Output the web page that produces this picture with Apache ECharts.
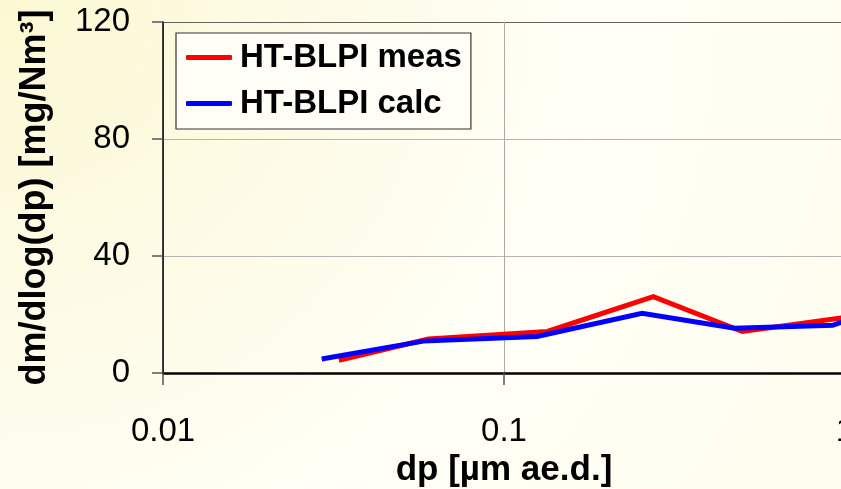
<!DOCTYPE html>
<html>
<head>
<meta charset="utf-8">
<script src="https://cdn.jsdelivr.net/npm/echarts@6/dist/echarts.min.js"></script>
<style>
  html, body { margin: 0; padding: 0; }
  body {
    width: 841px; height: 489px; overflow: hidden;
    background: radial-gradient(circle at 0 0, #fcf8d2 0%, #fdfbe4 28%, #fffff6 60%, #fefdef 100%);
  }
  #chart { width: 841px; height: 489px; }
</style>
</head>
<body>
<div id="chart"></div>
<script>
// Particle size [µm ae.d.] and mass distribution dm/dlog(dp) [mg/Nm³]
const measDp   = [0.0328, 0.060, 0.134, 0.274, 0.50, 1.0];
const measMass = [4.3, 11.6, 14.2, 26.1, 14.2, 19.0];
const calcDp   = [0.0292, 0.058, 0.125, 0.254, 0.475, 0.92, 1.0];
const calcMass = [4.8, 10.9, 12.5, 20.4, 15.3, 16.3, 17.8];
const seriesNames = ['HT-BLPI meas', 'HT-BLPI calc'];
const xTicks = [0.01, 0.1, 1];
const yTicks = [0, 40, 80, 120];

const pairs = (xs, ys) => xs.map((x, i) => [x, ys[i]]);
const font = 'Arial, "Liberation Sans", sans-serif';

const chart = echarts.init(document.getElementById('chart'), null, { renderer: 'canvas' });
chart.setOption({
  backgroundColor: 'transparent',
  animation: false,
  grid: { left: 163, top: 22, width: 682, height: 351, containLabel: false, outerBoundsMode: 'none' },
  legend: {
    left: 176, top: 33,
    orient: 'vertical',
    data: seriesNames,
    icon: 'roundRect',
    itemWidth: 46, itemHeight: 5, itemGap: 13,
    padding: [8, 9, 9, 10],
    backgroundColor: '#fffff8',
    borderColor: '#333', borderWidth: 1.2, borderRadius: 0,
    textStyle: { fontFamily: font, fontWeight: 'bold', fontSize: 33, color: '#000', padding: [0, 0, 0, 3] }
  },
  xAxis: {
    type: 'log', logBase: 10,
    min: xTicks[0], max: xTicks[xTicks.length - 1],
    name: 'dp [µm ae.d.]', nameLocation: 'middle', nameGap: 76,
    nameTextStyle: { fontFamily: font, fontWeight: 'bold', fontSize: 35, color: '#000' },
    axisLine: { show: true, onZero: false, lineStyle: { color: '#000', width: 2.5 } },
    axisTick: { show: true, inside: false, length: 12, lineStyle: { color: '#555', width: 1.5 } },
    minorTick: { show: false },
    axisLabel: {
      fontFamily: font, fontSize: 33, color: '#000', margin: 42,
      formatter: v => String(xTicks.find(t => Math.abs(Math.log10(t) - Math.log10(v)) < 1e-6) ?? v)
    },
    splitLine: { show: true, lineStyle: { color: '#aaa', width: 1 } }
  },
  yAxis: {
    type: 'value',
    min: yTicks[0], max: yTicks[yTicks.length - 1], interval: 40,
    name: 'dm/dlog(dp) [mg/Nm³]', nameLocation: 'middle', nameGap: 110, nameRotate: 90,
    nameTextStyle: { fontFamily: font, fontWeight: 'bold', fontSize: 36, color: '#000' },
    axisLine: { show: true, lineStyle: { color: '#000', width: 1.5 } },
    axisTick: { show: true, inside: false, length: 11, lineStyle: { color: '#555', width: 1.5 } },
    axisLabel: { fontFamily: font, fontSize: 33, color: '#000', margin: 33 },
    splitLine: { show: true, lineStyle: { color: ['#bbb', '#b4b4b4', '#b4b4b4', '#606060'], width: [1] } }
  },
  series: [
    {
      name: seriesNames[0], type: 'line', data: pairs(measDp, measMass),
      symbol: 'none', color: '#ff0000',
      lineStyle: { color: '#ff0000', width: 5, join: 'miter' }
    },
    {
      name: seriesNames[1], type: 'line', data: pairs(calcDp, calcMass),
      symbol: 'none', color: '#0000ff',
      lineStyle: { color: '#0000ff', width: 5, join: 'miter' }
    }
  ]
});
</script>
</body>
</html>
